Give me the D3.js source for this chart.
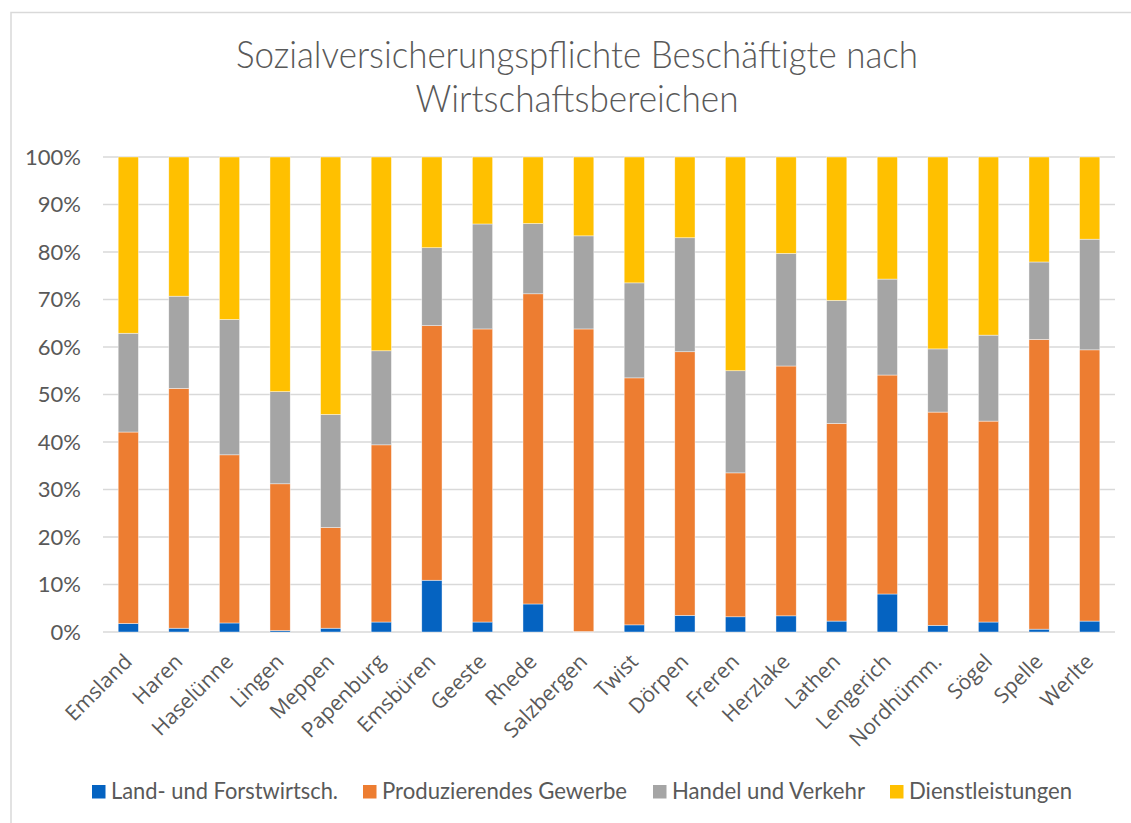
<!DOCTYPE html>
<html><head><meta charset="utf-8">
<script src="https://cdn.jsdelivr.net/npm/d3@7"></script>
<style>body{margin:0;background:#fff;} svg{display:block;}</style>
</head><body><svg id="c" width="1131" height="823"></svg>
<script>
const categories = ["Emsland","Haren","Haselünne","Lingen","Meppen","Papenburg","Emsbüren","Geeste","Rhede","Salzbergen","Twist","Dörpen","Freren","Herzlake","Lathen","Lengerich","Nordhümm.","Sögel","Spelle","Werlte"];
const seriesNames = ["Land- und Forstwirtsch.","Produzierendes Gewerbe","Handel und Verkehr","Dienstleistungen"];
const landForst   = [1.8,0.8,1.9,0.3,0.8,2.1,10.9,2.1,5.9,0.1,1.5,3.5,3.2,3.4,2.3,8.0,1.4,2.1,0.6,2.3];
const produzierend= [40.3,50.5,35.4,30.9,21.2,37.3,53.6,61.7,65.3,63.7,52.0,55.5,30.3,52.6,41.6,46.1,44.9,42.3,61.0,57.1];
const handel      = [20.8,19.4,28.5,19.4,23.8,19.8,16.4,22.1,14.8,19.6,20.0,24.0,21.5,23.7,25.9,20.2,13.3,18.1,16.3,23.3];
const dienst      = [37.1,29.3,34.2,49.4,54.2,40.8,19.1,14.1,14.0,16.6,26.5,17.0,45.0,20.3,30.2,25.7,40.4,37.5,22.1,17.3];
const yTicks = [0,0.1,0.2,0.3,0.4,0.5,0.6,0.7,0.8,0.9,1.0];
const colors = ["#0563C1","#ED7D31","#A5A5A5","#FFC000"];
const titleLines = ["Sozialversicherungspflichte Beschäftigte nach","Wirtschaftsbereichen"];

const svg = d3.select("#c");
const FONT = "Lato,'Liberation Sans',sans-serif";
const TXT = "#595959";

// chart border (right and bottom edges lie outside the picture)
svg.append("rect").attr("x",11).attr("y",12.5).attr("width",1135).attr("height",830)
  .attr("fill","#fff").attr("stroke","#D9D9D9").attr("stroke-width",1.5);

// title
const titleW = [682, 323];
svg.append("g").selectAll("text").data(titleLines).join("text")
  .attr("x",577).attr("y",(d,i)=>68+i*44)
  .attr("text-anchor","middle").attr("font-family",FONT).attr("font-weight",300).attr("font-size",37)
  .attr("textLength",(d,i)=>titleW[i]).attr("lengthAdjust","spacingAndGlyphs")
  .attr("fill",TXT).text(d=>d);

const m = {left:103, right:1115, top:157, bottom:632};
const x = d3.scaleBand().domain(categories).range([m.left,m.right]).paddingInner(0.6).paddingOuter(0.3);
const y = d3.scaleLinear().domain([0,1]).range([m.bottom,m.top]);

// gridlines
svg.append("g").selectAll("line").data(yTicks).join("line")
  .attr("x1",m.left).attr("x2",m.right)
  .attr("y1",d=>y(d)).attr("y2",d=>y(d))
  .attr("stroke","#D9D9D9").attr("stroke-width",1.6);

// y axis labels
const yAxis = d3.axisLeft(y).tickValues(yTicks).tickFormat(d3.format(".0%")).tickSize(0).tickPadding(22);
const ga = svg.append("g").attr("transform",`translate(${m.left},0)`).call(yAxis);
ga.select(".domain").remove();
ga.selectAll("text").attr("font-family",FONT).attr("font-size",22).attr("fill",TXT);

// stacked data
const rows = categories.map((c,i)=>({cat:c, s0:landForst[i], s1:produzierend[i], s2:handel[i], s3:dienst[i]}));
const stack = d3.stack().keys(["s0","s1","s2","s3"]).offset(d3.stackOffsetExpand);
const layers = stack(rows);

svg.append("g").selectAll("g").data(layers).join("g")
  .attr("fill",(d,i)=>colors[i])
  .selectAll("rect").data(d=>d).join("rect")
  .attr("x",d=>x(d.data.cat)).attr("width",x.bandwidth())
  .attr("y",d=>y(d[1])).attr("height",d=>y(d[0])-y(d[1]))
  .attr("stroke","#fff").attr("stroke-width",0.6).attr("stroke-opacity",0.7);

// x axis labels
const xAxis = d3.axisBottom(x).tickSize(0).tickPadding(0);
const gx = svg.append("g").attr("transform",`translate(0,${m.bottom})`).call(xAxis);
gx.select(".domain").remove();
gx.selectAll("text")
  .attr("font-family","'Open Sans',sans-serif").attr("font-size",21).attr("fill",TXT)
  .attr("text-anchor","end").attr("dy",0)
  .attr("transform","translate(5,31) rotate(-45)");

// legend
const legX = [92,363,653,890];
const legW = [227,245,193,163];
const lg = svg.append("g").selectAll("g").data(seriesNames).join("g")
  .attr("transform",(d,i)=>`translate(${legX[i]},785)`);
lg.append("rect").attr("width",13.5).attr("height",13.5).attr("fill",(d,i)=>colors[i]);
lg.append("text").attr("x",19).attr("y",14).attr("font-family",FONT).attr("font-size",23)
  .attr("textLength",(d,i)=>legW[i]).attr("lengthAdjust","spacingAndGlyphs")
  .attr("fill",TXT).text(d=>d);
</script></body></html>
